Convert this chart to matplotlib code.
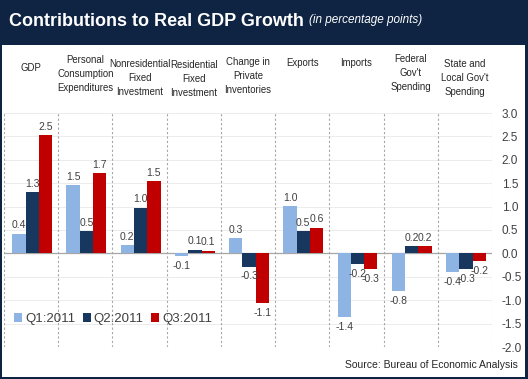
import matplotlib.pyplot as plt
import numpy as np
from matplotlib import font_manager

categories = [
    "GDP",
    "Personal\nConsumption\nExpenditures",
    "Nonresidential\nFixed\nInvestment",
    "Residential\nFixed\nInvestment",
    "Change in\nPrivate\nInventories",
    "Exports",
    "Imports",
    "Federal\nGov't\nSpending",
    "State and\nLocal Gov't\nSpending",
]
q1 = [0.42, 1.46, 0.17, -0.06, 0.32, 1.01, -1.36, -0.81, -0.40]
q2 = [1.31, 0.48, 0.98, 0.08, -0.28, 0.47, -0.23, 0.16, -0.33]
q3 = [2.52, 1.72, 1.54, 0.06, -1.07, 0.55, -0.33, 0.16, -0.16]
series_names = ["Q1:2011", "Q2:2011", "Q3:2011"]
colors = ["#8db4e2", "#17375e", "#c00000"]
yticks = np.arange(-2.0, 3.01, 0.5)

names = {f.name for f in font_manager.fontManager.ttflist}
narrow = "Liberation Sans Narrow" if "Liberation Sans Narrow" in names else "Liberation Sans"

navy = "#0f2342"
W, H = 528, 379
fig = plt.figure(figsize=(W / 100, H / 100), dpi=100)
fig.patch.set_facecolor(navy)

# white panel
bg = fig.add_axes([2 / W, 2 / H, 523 / W, 332 / H], zorder=-1)
bg.set_facecolor("white")
bg.set_xticks([])
bg.set_yticks([])
for s in bg.spines.values():
    s.set_visible(False)

fig.text(9 / W, 1 - 22 / H, "Contributions to Real GDP Growth", color="white",
         fontsize=13, fontweight="bold", va="center", ha="left", family=narrow)
fig.text(309 / W, 1 - 20 / H, "(in percentage points)", color="white",
         fontsize=8.5, style="italic", va="center", ha="left", family=narrow)

ax = fig.add_axes([4 / W, 1 - 347 / H, 488 / W, 234 / H])
ax.set_facecolor("none")

x = np.arange(len(categories))
bw = 0.245
series = [q1, q2, q3]
for i, (vals, name, c) in enumerate(zip(series, series_names, colors)):
    pos = x + (i - 1) * bw + 0.02
    ax.bar(pos, vals, width=bw, color=c, label=name, zorder=3)
    for p, v in zip(pos, vals):
        if v >= 0:
            ax.text(p, v + 0.07, f"{v:.1f}", ha="center", va="bottom",
                    fontsize=7.5, color="#404040", zorder=4, family=narrow)
        else:
            ax.text(p, v - 0.1, f"{v:.1f}", ha="center", va="top",
                    fontsize=7.5, color="#404040", zorder=4, family=narrow)

ax.set_xlim(-0.5, len(categories) - 0.5)
ax.set_ylim(-2.0, 3.0)
ax.yaxis.tick_right()
ax.set_yticks(yticks)
ax.set_yticklabels([f"{t:.1f}" for t in yticks], fontsize=8.5, color="#404040",
                   family=narrow)
ax.tick_params(axis="y", length=0, pad=7)
ax.set_xticks([])
for t in yticks:
    ax.axhline(t, color="#ececec", linewidth=0.7, zorder=1)
ax.axhline(0, color="#a6a6a6", linewidth=0.9, zorder=2)
for b in np.arange(len(categories) + 1) - 0.5:
    ax.axvline(b, color="#a6a6a6", linewidth=0.8, linestyle=(0, (2, 2)), zorder=2)
for s in ax.spines.values():
    s.set_visible(False)

# category headers above the plot
label_tops = [63, 55, 59, 60, 57, 58, 58, 54, 59]
for xi, lab, top in zip(x, categories, label_tops):
    fx = (4 + (xi + 0.5) * 488 / 9) / W
    fig.text(fx, 1 - top / H, lab, ha="center", va="top", fontsize=6.9,
             color="#262626", linespacing=1.5, family=narrow)

ax.legend(loc="lower left", bbox_to_anchor=(0.005, 0.06), ncol=3,
          frameon=False, handlelength=0.6, handleheight=0.7,
          handletextpad=0.2, columnspacing=0.6, labelcolor="#404040",
          prop={"family": narrow, "size": 9.5}, borderaxespad=0.2)

fig.text(518 / W, 1 - 365 / H, "Source: Bureau of Economic Analysis",
         ha="right", va="center", fontsize=7.5, color="#262626", family=narrow)

fig.savefig("out.png", dpi=100, facecolor=fig.get_facecolor())
